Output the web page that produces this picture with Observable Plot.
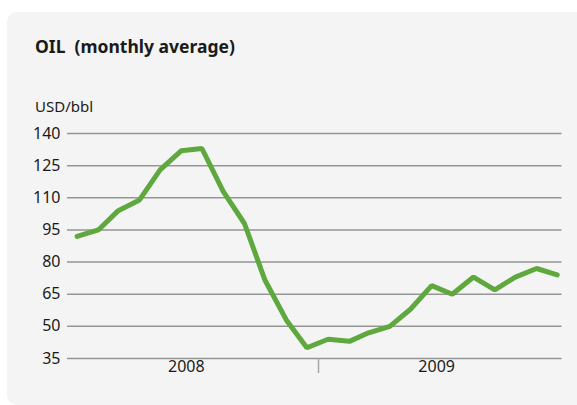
<!DOCTYPE html>
<html>
<head>
<meta charset="utf-8">
<script src="https://cdn.jsdelivr.net/npm/d3@7"></script>
<script src="https://cdn.jsdelivr.net/npm/@observablehq/plot@0.6"></script>
<style>
  html, body { margin: 0; padding: 0; background: #ffffff; }
  #wrap { position: relative; width: 577px; height: 405px; overflow: hidden; font-family: "Noto Sans", "Open Sans", sans-serif; color: #1a1a1a; }
  #panel { position: absolute; left: 7px; top: 12px; width: 570px; height: 393px; background: #f4f4f4; border-radius: 10px 0 0 10px; }
  #title { position: absolute; left: 35px; top: 34px; font-size: 17.5px; font-weight: 700; line-height: 24px; white-space: pre; }
  #unit { position: absolute; left: 35px; top: 96px; font-size: 15px; line-height: 20px; }
  #chart { position: absolute; left: 0; top: 120px; }
</style>
</head>
<body>
<div id="wrap">
  <div id="panel"></div>
  <div id="title">OIL  (monthly average)</div>
  <div id="unit">USD/bbl</div>
  <div id="chart"></div>
</div>
<script>
// Monthly average oil price, Jan 2008 – Dec 2009 (USD/bbl)
const months = ["2008-01","2008-02","2008-03","2008-04","2008-05","2008-06","2008-07","2008-08","2008-09","2008-10","2008-11","2008-12",
                "2009-01","2009-02","2009-03","2009-04","2009-05","2009-06","2009-07","2009-08","2009-09","2009-10","2009-11","2009-12"];
const prices = [92, 95, 104, 109, 123, 132, 133, 113, 98, 71.5, 53, 40,
                44, 43, 47, 50, 58, 69, 65, 73, 67, 73, 77, 74];
const yTicks = [35, 50, 65, 80, 95, 110, 125, 140];
const years = [2008, 2009];
const yearBoundary = ["2009-01"];

const parse = s => { const [y, m] = s.split("-").map(Number); return new Date(Date.UTC(y, m - 1, 1)); };
const mid = s => { const d = parse(s); return new Date(d.getTime() + 14 * 864e5); };
const data = months.map((m, i) => ({date: mid(m), price: prices[i]}));

const chart = Plot.plot({
  width: 577,
  height: 280,
  marginTop: 13,
  marginBottom: 42,
  marginLeft: 67,
  marginRight: 15.5,
  style: {background: "transparent", fontFamily: "'Noto Sans', 'Open Sans', sans-serif", color: "#1a1a1a", overflow: "visible"},
  x: {type: "utc", domain: [parse("2008-01"), new Date(Date.UTC(2009, 11, 22))]},
  y: {domain: [35, 140]},
  marks: [
    Plot.gridY(yTicks, {stroke: "#959595", strokeOpacity: 1, strokeWidth: 1.5}),
    Plot.axisY(yTicks, {tickSize: 0, tickPadding: 7, fontSize: 16, label: null, fill: "#1a1a1a"}),
    Plot.axisX(yearBoundary.map(parse), {tickSize: 15, tickFormat: () => "", stroke: "#a8a8a8", strokeWidth: 1.5, label: null}),
    Plot.text(years, {x: d => new Date(Date.UTC(d, 6, 1)), frameAnchor: "bottom", dy: 13, dx: -6, text: d => String(d), fontSize: 16, fill: "#1a1a1a"}),
    Plot.line(data, {x: "date", y: "price", stroke: "#5ea83e", strokeWidth: 5, strokeLinejoin: "miter", strokeLinecap: "round"})
  ]
});
document.getElementById("chart").appendChild(chart);
</script>
</body>
</html>
